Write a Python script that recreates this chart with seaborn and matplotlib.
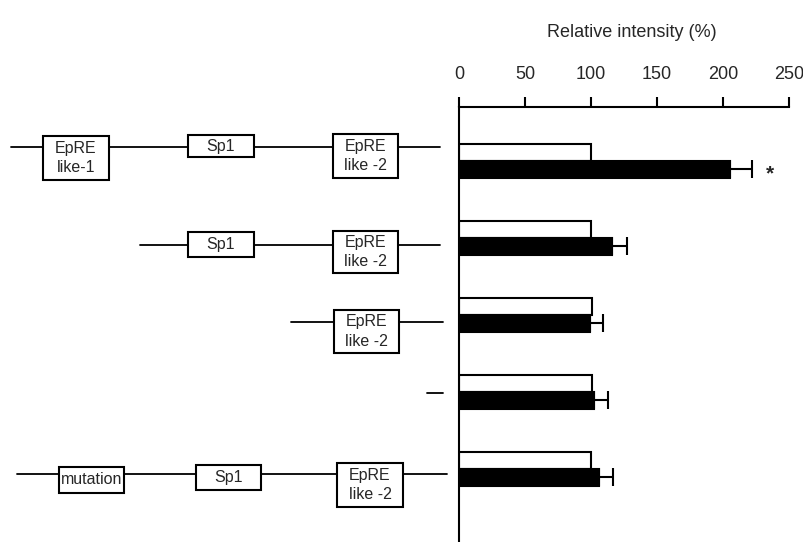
import matplotlib.pyplot as plt
import seaborn as sns
import pandas as pd
from matplotlib.patches import Rectangle

# values
constructs = ["EpRE1-Sp1-EpRE2", "Sp1-EpRE2", "EpRE2", "empty", "mut-Sp1-EpRE2"]
conditions = ["control", "treated"]
control = [100, 100, 101, 101, 100]
treated = [205, 116, 99, 102, 106]
treated_err = [17, 11, 10, 11, 11]
significant = [True, False, False, False, False]
x_ticks = [0, 50, 100, 150, 200, 250]
x_title = "Relative intensity (%)"

# promoter elements drawn left of each bar pair
row_elements = [
    ["EpRE\nlike-1", "Sp1", "EpRE\nlike -2"],
    ["Sp1", "EpRE\nlike -2"],
    ["EpRE\nlike -2"],
    [],
    ["mutation", "Sp1", "EpRE\nlike -2"],
]

# diagram layout in pixels: line (x0, x1, y) and boxes (x0, y0, x1, y1)
row_lines = [(11, 440, 147), (140, 440, 245), (291, 443, 322), (427, 443, 393), (17, 447, 474)]
row_boxes = [
    [(43, 136, 109, 180), (188, 135, 254, 157), (333, 134, 398, 178)],
    [(188, 232, 254, 257), (333, 231, 398, 273)],
    [(334, 310, 399, 353)],
    [],
    [(59, 467, 124, 493), (196, 465, 261, 490), (337, 463, 403, 507)],
]

sns.set_theme(style="white")
plt.rcParams['font.family'] = ['Liberation Sans', 'DejaVu Sans']

W, H = 804, 542
fig = plt.figure(figsize=(W / 100, H / 100), dpi=100)

# left: construct diagrams
axd = fig.add_axes([0, 0, 1, 1])
axd.set_xlim(0, W)
axd.set_ylim(H, 0)
axd.axis('off')
for (x0, x1, y), boxes, labels in zip(row_lines, row_boxes, row_elements):
    axd.plot([x0, x1], [y, y], color='black', lw=1.3, zorder=1)
    for (bx0, by0, bx1, by1), lab in zip(boxes, labels):
        axd.add_patch(Rectangle((bx0, by0), bx1 - bx0, by1 - by0, facecolor='white',
                                edgecolor='black', lw=1.5, zorder=2))
        axd.text((bx0 + bx1) / 2, (by0 + by1) / 2, lab, ha='center', va='center',
                 fontsize=11.5, linespacing=1.4, zorder=3)

# right: bar chart
df = pd.DataFrame({
    "construct": constructs * 2,
    "condition": [conditions[0]] * len(control) + [conditions[1]] * len(treated),
    "value": control + treated,
})
ax = fig.add_axes([459 / W, 0, 330 / W, 435 / H])
ax.patch.set_alpha(0)
sns.barplot(data=df, y="construct", x="value", hue="condition", order=constructs,
            hue_order=conditions, palette={"control": "white", "treated": "black"},
            edgecolor="black", linewidth=1.5, width=0.44, errorbar=None,
            legend=False, orient='h', ax=ax)

bars = ax.containers[1]
ys = [b.get_y() + b.get_height() / 2 for b in bars]
xs = [b.get_width() for b in bars]
ax.errorbar(xs, ys, xerr=[[0] * len(xs), treated_err], fmt='none', ecolor='black',
            elinewidth=1.5, capsize=6.5, capthick=1.5)
for x, y, e, sig in zip(xs, ys, treated_err, significant):
    if sig:
        ax.annotate("*", (x + e, y), xytext=(10, -3), textcoords='offset points',
                    ha='left', va='center', fontsize=15, fontweight='bold')

ax.set_xlim(0, 250)
ax.set_ylim(4.95, -0.70)
ax.set_yticks([])
ax.set_ylabel('')
ax.set_xticks(x_ticks)
ax.xaxis.tick_top()
ax.xaxis.set_label_position('top')
ax.set_xlabel(x_title, fontsize=13)
ax.xaxis.set_label_coords(0.524, 1.16)
ax.tick_params(axis='x', direction='out', length=7, width=1.5, pad=10,
               labelsize=13, color='black', top=True, bottom=False)
for side in ['bottom', 'right']:
    ax.spines[side].set_visible(False)
for side in ['top', 'left']:
    ax.spines[side].set_color('black')
    ax.spines[side].set_linewidth(1.5)

fig.savefig("out.png", dpi=100)
